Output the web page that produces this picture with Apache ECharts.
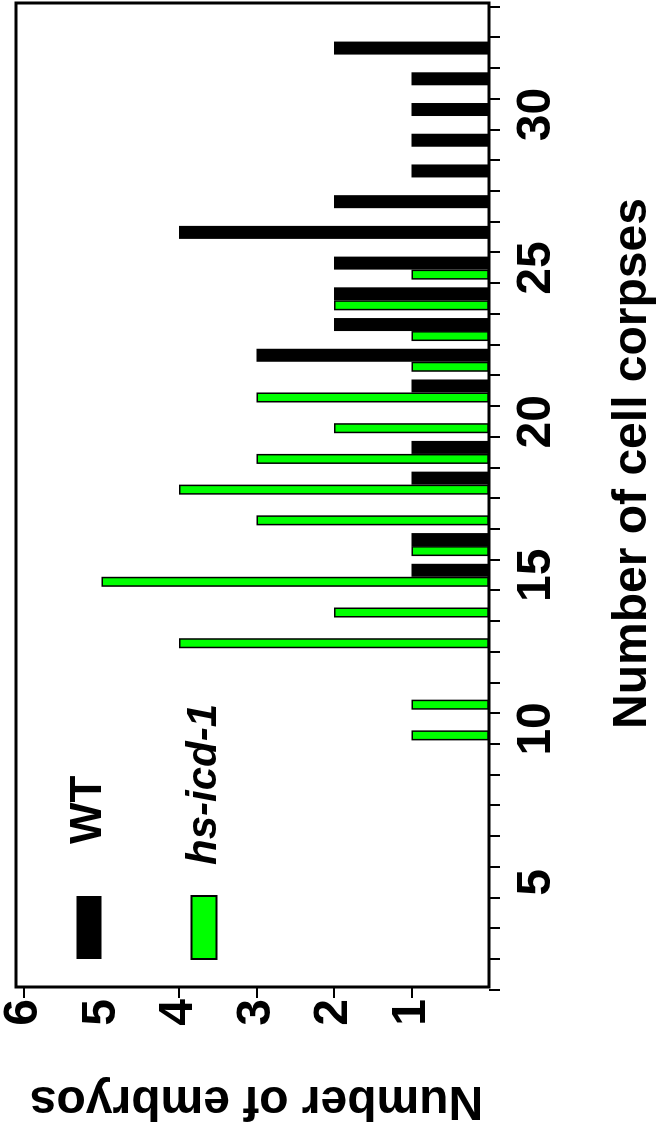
<!DOCTYPE html>
<html><head><meta charset="utf-8">
<script src="https://cdn.jsdelivr.net/npm/echarts@6/dist/echarts.min.js"></script>
<style>
html,body{margin:0;padding:0;background:#fff;overflow:hidden;width:662px;height:1132px}
#wrap{position:absolute;left:0;top:0;width:1132px;height:662px;transform-origin:0 0;transform:translate(0px,1132px) rotate(-90deg);}
#chart{width:1132px;height:662px}
</style></head><body>
<div id="wrap"><div id="chart"></div></div>
<script>
// Number of cell corpses (categories)
const categories = ['2','3','4','5','6','7','8','9','10','11','12','13','14','15','16','17',
                    '18','19','20','21','22','23','24','25','26','27','28','29','30','31','32','33'];
// Number of embryos per corpse count
const wtCounts = [0,0,0,0,0,0,0,0,0,0,0,0,0,1,1,0,
                  1,1,0,1,3,2,2,2,4,2,1,1,1,1,2,0];
const hsCounts = [0,0,0,0,0,0,0,0,1,1,0,4,2,5,1,3,
                  4,3,2,3,1,1,2,1,0,0,0,0,0,0,0,0];
const embryoLabelValues = [1,2,3,4,5,6];
const embryoTickValues = [1,2,3,4,6];
const corpseLabelStep = 5;

const FONT = '"Liberation Sans", Arial, Helvetica, sans-serif';
const chart = echarts.init(document.getElementById('chart'), null, {renderer:'canvas'});
const nz = a => a.map(v => v === 0 ? '-' : v);

chart.setOption({
  backgroundColor: '#fff',
  animation: false,
  textStyle: {fontFamily: FONT},
  grid: {left: 141, right: 7, top: 16, bottom: 173, show: false, containLabel: false},
  graphic: [{
    type: 'rect', silent: true, z: 10,
    shape: {x: 145, y: 16, width: 984, height: 473},
    style: {fill: 'none', stroke: '#000', lineWidth: 3}
  }],
  legend: {
    orient: 'vertical', left: 172, top: 67, padding: 0,
    itemWidth: 63, itemHeight: 25, itemGap: 72, icon: 'rect',
    data: [
      {name: 'WT', textStyle: {fontSize: 44, fontWeight: 'bold', fontFamily: FONT, color: '#000', padding: [0,0,0,47]}},
      {name: 'hs-icd-1', textStyle: {fontSize: 42, fontStyle: 'italic', fontWeight: 'bold', fontFamily: FONT, color: '#000', padding: [0,0,0,26]}}
    ]
  },
  xAxis: {
    type: 'category', data: categories, position: 'bottom',
    axisLine: {show: false},
    axisTick: {show: true, interval: 0, length: 11, inside: false, lineStyle: {color: '#000', width: 2}},
    axisLabel: {
      interval: (i, v) => Number(v) % corpseLabelStep === 0,
      fontSize: 48, fontWeight: 'bold', color: '#000', margin: 24, fontFamily: FONT
    },
    name: 'Number of cell corpses', nameLocation: 'middle', nameGap: 120,
    nameTextStyle: {fontSize: 48, fontWeight: 'bold', color: '#000', fontFamily: FONT, padding: [0,0,0,70]},
    splitLine: {show: false}
  },
  yAxis: {
    type: 'value', min: 0, max: 6, interval: 1, offset: -4,
    axisLine: {show: false},
    axisTick: {show: true, length: 12, customValues: embryoTickValues, lineStyle: {color: '#000', width: 2}},
    axisLabel: {
      customValues: embryoLabelValues,
      fontSize: 48, fontWeight: 'bold', color: '#000', margin: 13, fontFamily: FONT,
      verticalAlign: 'middle', padding: [24,0,0,0]
    },
    name: 'Number of embryos', nameLocation: 'middle', nameRotate: 90, nameGap: 90,
    nameTextStyle: {fontSize: 48, fontWeight: 'bold', color: '#000', fontFamily: FONT},
    splitLine: {show: false}
  },
  series: [
    {name: 'hs-icd-1', type: 'bar', data: nz(hsCounts), barWidth: 10, barGap: '0%',
     itemStyle: {color: '#00ff00', borderColor: '#000', borderWidth: 1.5}},
    {name: 'WT', type: 'bar', data: nz(wtCounts), barWidth: 13, barGap: '0%',
     itemStyle: {color: '#000'}}
  ]
});
</script></body></html>
